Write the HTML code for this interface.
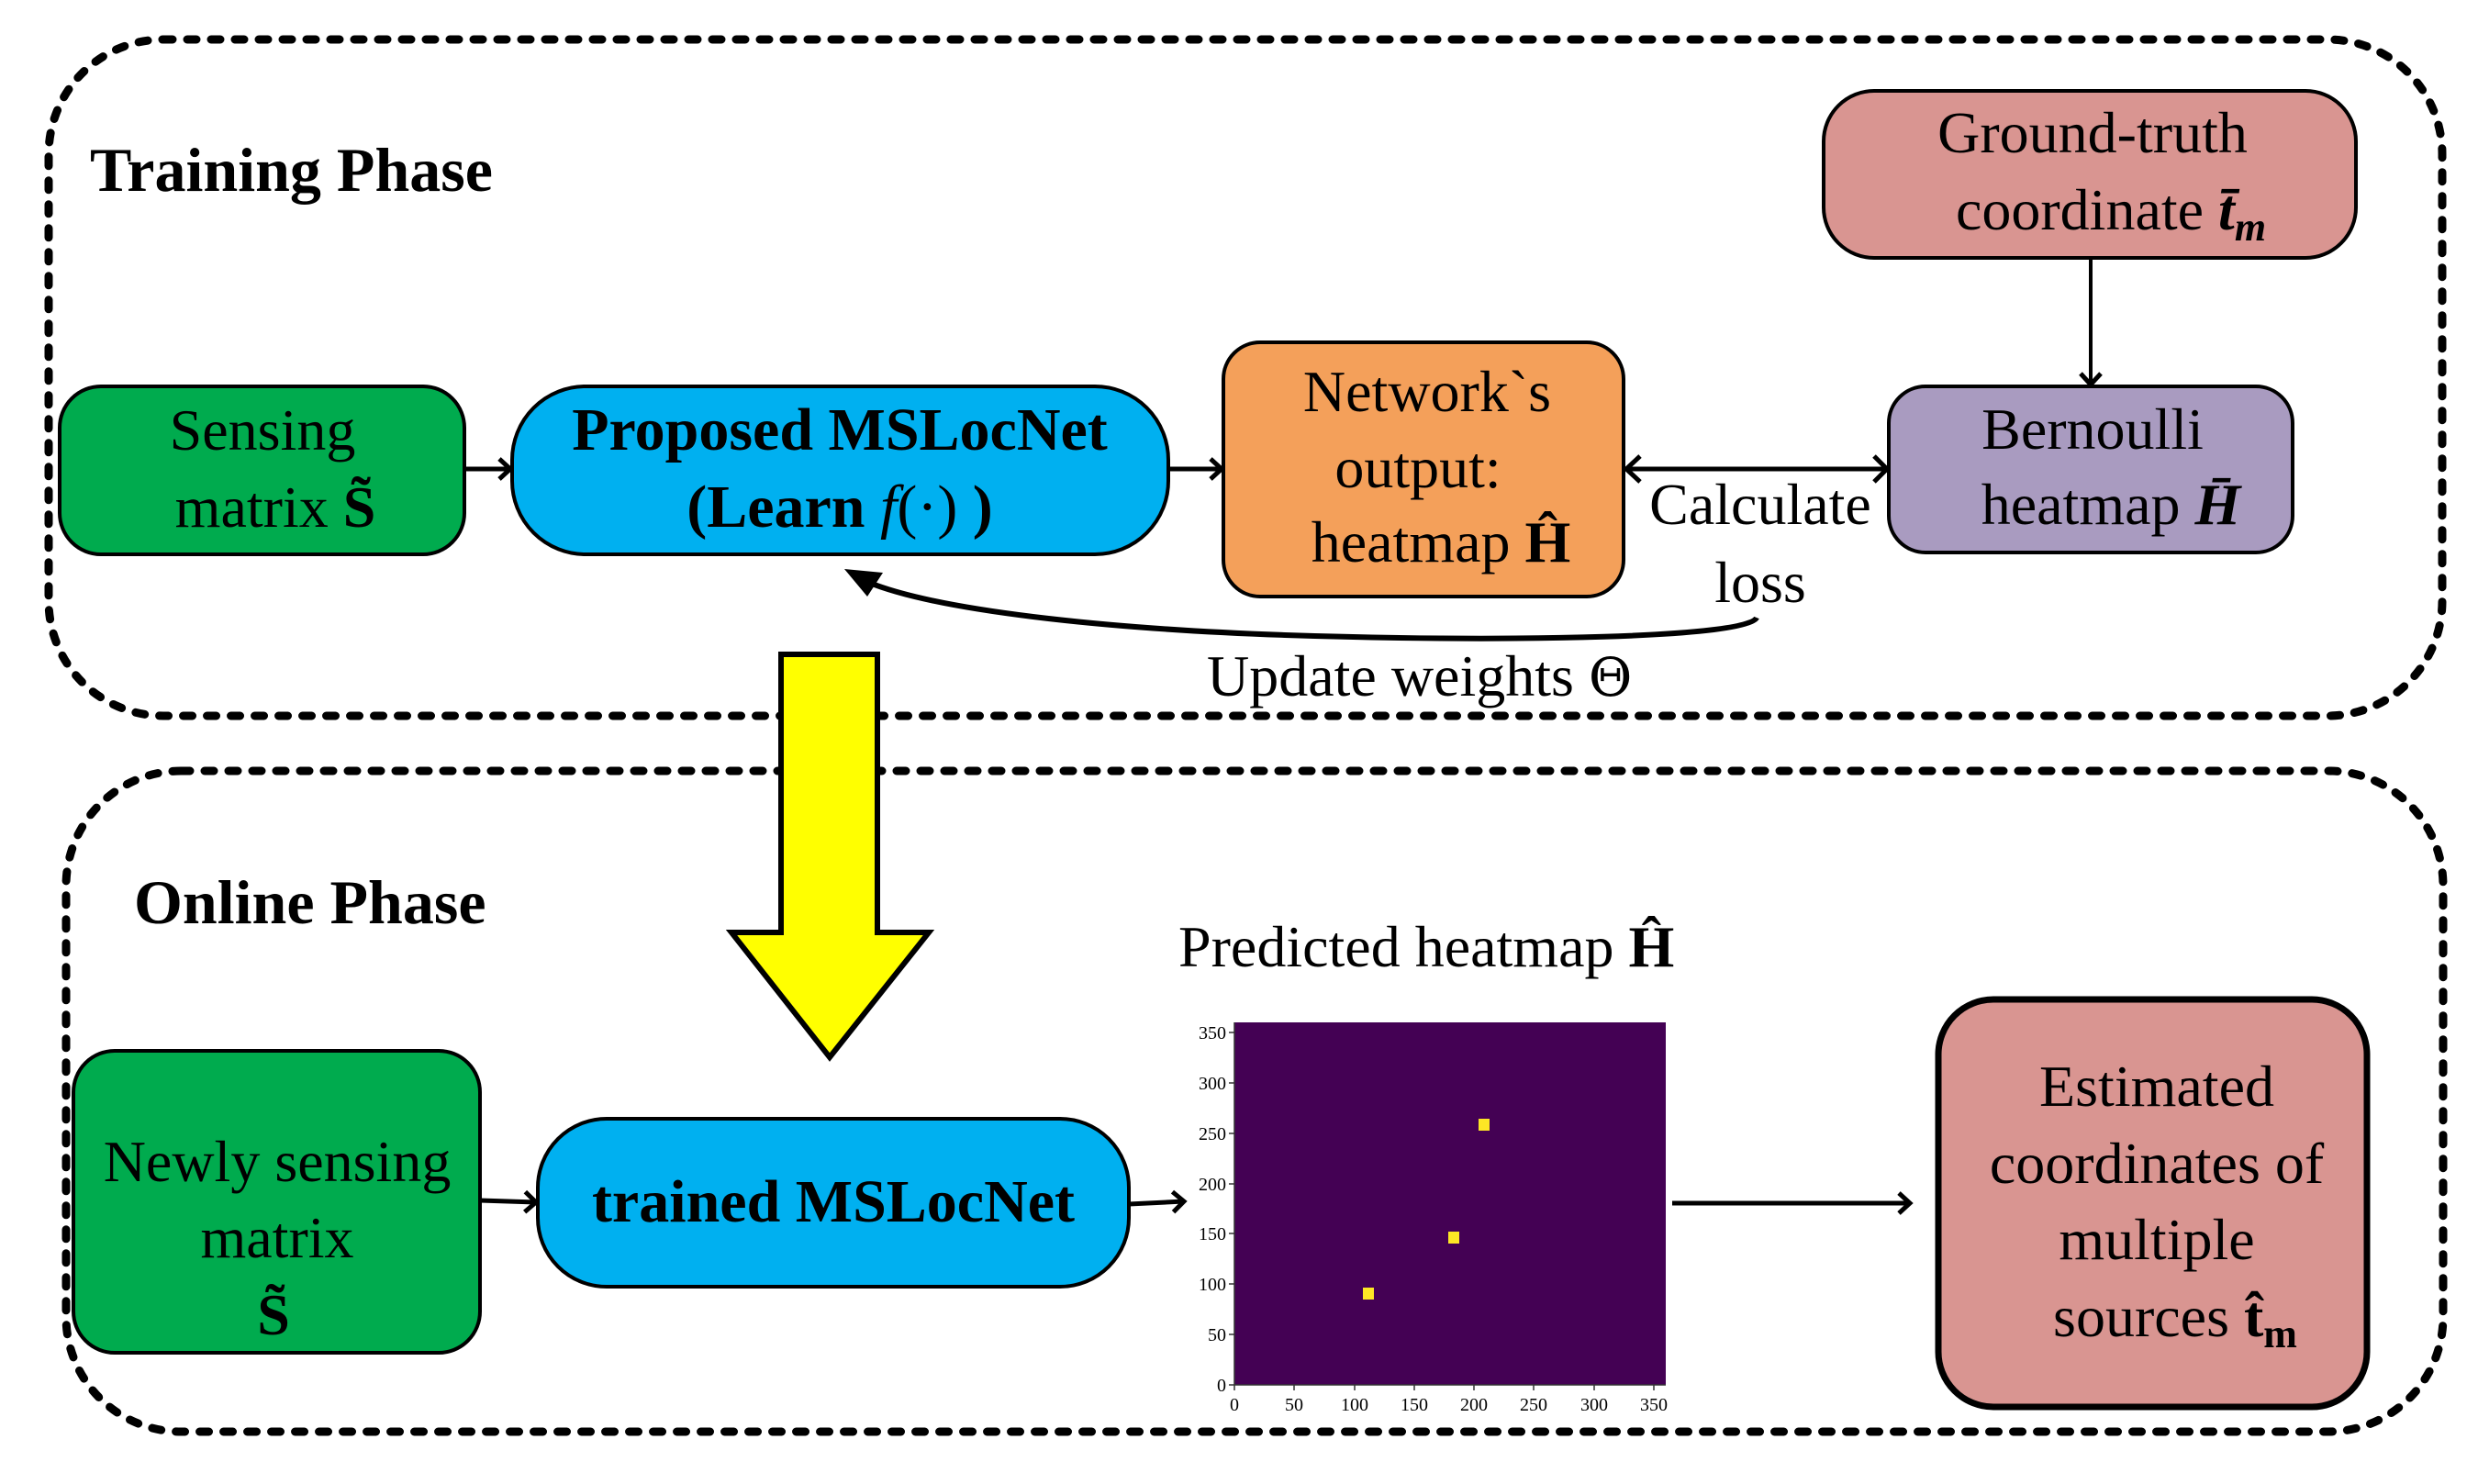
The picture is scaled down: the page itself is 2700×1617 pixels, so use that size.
<!DOCTYPE html>
<html><head><meta charset="utf-8"><style>
html,body{margin:0;padding:0;background:#fff;}
svg{display:block;}
text{font-family:"Liberation Serif","DejaVu Serif",serif;fill:#000;}
.t{font-size:64px;}
.b{font-size:66px;font-weight:bold;}
.tick{font-family:"DejaVu Sans","Liberation Sans",sans-serif;font-size:20px;fill:#333;}
</style></head><body>
<svg width="2700" height="1617" viewBox="0 0 2700 1617" xmlns="http://www.w3.org/2000/svg">
<defs>
<marker id="op" markerWidth="20" markerHeight="26" refX="16" refY="13" orient="auto" markerUnits="userSpaceOnUse">
<path d="M4,2 L16,13 L4,24" fill="none" stroke="#000" stroke-width="5"/></marker>
</defs>
<rect x="53" y="43" width="2608" height="737" rx="125" fill="none" stroke="#000" stroke-width="9" stroke-dasharray="10 16" stroke-linecap="round"/>
<rect x="72" y="840" width="2590" height="720" rx="125" fill="none" stroke="#000" stroke-width="9" stroke-dasharray="10 16" stroke-linecap="round"/>

<text class="b" x="98" y="208" style="font-size:68px">Training Phase</text>
<text class="b" x="146" y="1006" style="font-size:68px">Online Phase</text>

<rect x="65" y="421" width="441" height="183" rx="45" fill="#00ab4e" stroke="#000" stroke-width="4"/>
<text class="t" x="286" y="490" text-anchor="middle">Sensing</text>
<text class="t" x="300" y="574" text-anchor="middle">matrix <tspan font-weight="bold">S̃</tspan></text>

<rect x="558" y="421" width="715" height="183" rx="80" fill="#00b0f0" stroke="#000" stroke-width="4"/>
<text class="b" x="915" y="490" text-anchor="middle">Proposed MSLocNet</text>
<text class="b" x="915" y="574" text-anchor="middle">(Learn <tspan font-style="italic" font-weight="normal">f</tspan><tspan font-weight="normal">(·)</tspan> )</text>

<rect x="1333" y="373" width="436" height="277" rx="40" fill="#f4a05a" stroke="#000" stroke-width="4"/>
<text class="t" x="1555" y="448" text-anchor="middle">Network`s</text>
<text class="t" x="1545" y="531" text-anchor="middle">output:</text>
<text class="t" x="1570" y="612" text-anchor="middle">heatmap <tspan font-weight="bold">Ĥ</tspan></text>

<rect x="2058" y="421" width="440" height="181" rx="40" fill="#a99bc0" stroke="#000" stroke-width="4"/>
<text class="t" x="2280" y="489" text-anchor="middle">Bernoulli</text>
<text class="t" x="2300" y="571" text-anchor="middle">heatmap <tspan font-weight="bold" font-style="italic">H̄</tspan></text>

<rect x="1987" y="99" width="580" height="182" rx="55" fill="#d99591" stroke="#000" stroke-width="4"/>
<text class="t" x="2280" y="166" text-anchor="middle">Ground-truth</text>
<text class="t" x="2300" y="250" text-anchor="middle">coordinate <tspan font-weight="bold" font-style="italic">t̄</tspan><tspan font-weight="bold" font-style="italic" font-size="44" dy="12">m</tspan></text>

<line x1="506" y1="511" x2="556" y2="511" stroke="#000" stroke-width="5" marker-end="url(#op)"/>
<line x1="1273" y1="511" x2="1331" y2="511" stroke="#000" stroke-width="5" marker-end="url(#op)"/>
<line x1="2278" y1="281" x2="2278" y2="419" stroke="#000" stroke-width="4" marker-end="url(#op)"/>
<line x1="1775" y1="511" x2="2054" y2="511" stroke="#000" stroke-width="5"/>
<path d="M1787,497 L1772,511 L1787,525 M2042,497 L2056,511 L2042,525" fill="none" stroke="#000" stroke-width="5"/>
<text class="t" x="1918" y="571" text-anchor="middle">Calculate</text>
<text class="t" x="1918" y="656" text-anchor="middle">loss</text>

<path d="M1914,673 C1905,695 1650,700 1400,692 C1200,685 1020,665 945,634" fill="none" stroke="#000" stroke-width="6"/>
<path d="M920,620 L962,624 L945,650 Z" fill="#000"/>
<text class="t" x="1315" y="758">Update weights <tspan font-family="DejaVu Serif" font-size="58">Θ</tspan></text>

<path d="M851,713 L956,713 L956,1016 L1012,1016 L904,1152 L797,1016 L851,1016 Z" fill="#ffff00" stroke="#000" stroke-width="6" stroke-linejoin="miter"/>

<rect x="80" y="1145" width="443" height="329" rx="45" fill="#00ab4e" stroke="#000" stroke-width="4"/>
<text class="t" x="302" y="1287" text-anchor="middle">Newly sensing</text>
<text class="t" x="302" y="1370" text-anchor="middle">matrix</text>
<text class="t" x="298" y="1454" text-anchor="middle" font-weight="bold">S̃</text>

<rect x="586" y="1219" width="644" height="183" rx="75" fill="#00b0f0" stroke="#000" stroke-width="4"/>
<text class="b" x="908" y="1331" text-anchor="middle">trained MSLocNet</text>

<line x1="523" y1="1308" x2="584" y2="1310" stroke="#000" stroke-width="5" marker-end="url(#op)"/>
<line x1="1230" y1="1312" x2="1290" y2="1309" stroke="#000" stroke-width="5" marker-end="url(#op)"/>

<text class="t" x="1284" y="1053">Predicted heatmap <tspan font-weight="bold">Ĥ</tspan></text>

<rect x="1345" y="1114" width="470" height="395" fill="#440154"/>
<rect x="1611" y="1219" width="12" height="13" fill="#fde725"/>
<rect x="1578" y="1342" width="12" height="13" fill="#fde725"/>
<rect x="1485" y="1403" width="12" height="13" fill="#fde725"/>
<g stroke="#333" stroke-width="1.5">
<line x1="1345" y1="1114" x2="1345" y2="1509"/><line x1="1345" y1="1509" x2="1815" y2="1509"/>
<line x1="1339" y1="1509" x2="1345" y2="1509"/><line x1="1339" y1="1454" x2="1345" y2="1454"/><line x1="1339" y1="1399" x2="1345" y2="1399"/><line x1="1339" y1="1344" x2="1345" y2="1344"/><line x1="1339" y1="1290" x2="1345" y2="1290"/><line x1="1339" y1="1235" x2="1345" y2="1235"/><line x1="1339" y1="1180" x2="1345" y2="1180"/><line x1="1339" y1="1125" x2="1345" y2="1125"/>
<line x1="1345" y1="1509" x2="1345" y2="1515"/><line x1="1410" y1="1509" x2="1410" y2="1515"/><line x1="1476" y1="1509" x2="1476" y2="1515"/><line x1="1541" y1="1509" x2="1541" y2="1515"/><line x1="1606" y1="1509" x2="1606" y2="1515"/><line x1="1671" y1="1509" x2="1671" y2="1515"/><line x1="1737" y1="1509" x2="1737" y2="1515"/><line x1="1802" y1="1509" x2="1802" y2="1515"/>
</g>
<g class="tick" text-anchor="end">
<text x="1336" y="1516">0</text><text x="1336" y="1461">50</text><text x="1336" y="1406">100</text><text x="1336" y="1351">150</text><text x="1336" y="1297">200</text><text x="1336" y="1242">250</text><text x="1336" y="1187">300</text><text x="1336" y="1132">350</text>
</g>
<g class="tick" text-anchor="middle">
<text x="1345" y="1537">0</text><text x="1410" y="1537">50</text><text x="1476" y="1537">100</text><text x="1541" y="1537">150</text><text x="1606" y="1537">200</text><text x="1671" y="1537">250</text><text x="1737" y="1537">300</text><text x="1802" y="1537">350</text>
</g>

<line x1="1822" y1="1311" x2="2081" y2="1311" stroke="#000" stroke-width="5" marker-end="url(#op)"/>

<rect x="2112" y="1089" width="467" height="444" rx="60" fill="#d99591" stroke="#000" stroke-width="7"/>
<text class="t" x="2350" y="1205" text-anchor="middle">Estimated</text>
<text class="t" x="2350" y="1289" text-anchor="middle">coordinates of</text>
<text class="t" x="2350" y="1372" text-anchor="middle">multiple</text>
<text class="t" x="2370" y="1456" text-anchor="middle">sources <tspan font-weight="bold">t̂</tspan><tspan font-weight="bold" font-size="44" dy="12">m</tspan></text>
</svg>
</body></html>
